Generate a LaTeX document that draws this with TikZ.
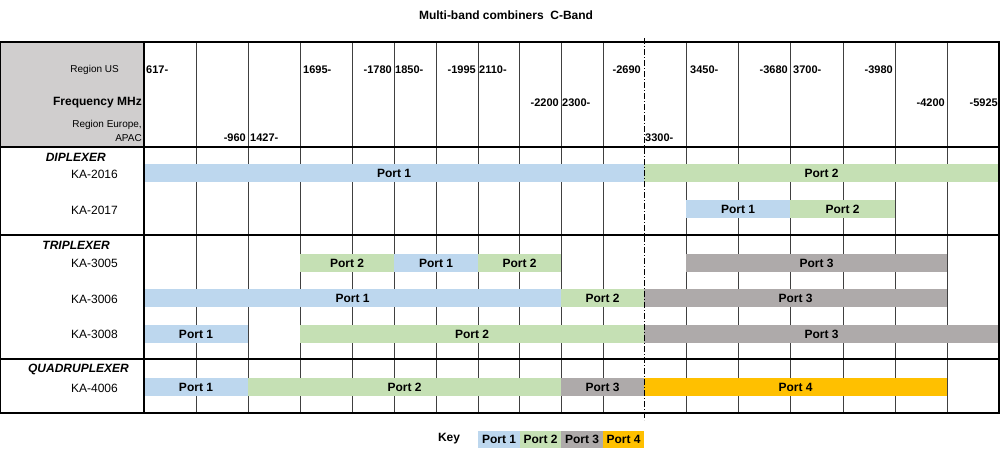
\documentclass[tikz,border=0pt]{standalone}
\usepackage{fontspec}
\setmainfont{Liberation Sans}
\definecolor{pa}{HTML}{BDD7EE}
\definecolor{pb}{HTML}{C5E0B4}
\definecolor{pc}{HTML}{AEAAAA}
\definecolor{pd}{HTML}{FFC000}
\definecolor{hd}{HTML}{D0CECE}
\begin{document}
\begin{tikzpicture}[x=1pt,y=-1pt,
  grid/.style={draw=black!75,line width=0.6pt},
  frame/.style={draw=black,line width=1.2pt},
  bar/.style={inner sep=0pt,outer sep=0pt,minimum height=18pt,font=\bfseries\fontsize{12}{12}\selectfont},
  fq/.style={inner sep=1pt,font=\bfseries\fontsize{11}{11}\selectfont},
  dev/.style={anchor=east,inner sep=0pt,font=\fontsize{12}{12}\selectfont},
  grp/.style={anchor=east,inner sep=0pt,font=\bfseries\itshape\fontsize{12}{12}\selectfont},
  key/.style={inner sep=0pt,minimum height=17pt,minimum width=41.5pt,font=\bfseries\fontsize{12}{12}\selectfont}]
\useasboundingbox (0,0) rectangle (1000,456);
\node[font=\bfseries\fontsize{12}{12}\selectfont] (title) at (506,15) {Multi-band combiners\ \ C-Band};
\fill[hd] (0,42) rectangle (144,147);
% vertical grid
\foreach \x in {196,248,300,352,394,436,478,519,561,603,686,738,790,843,895,947}
  \draw[grid] (\x,42) -- (\x,413);
% bars
\newcommand{\pbar}[5]{\node[bar,fill=#4,minimum width={#2-#1},anchor=west] (#5) at (#1,#3) {Port #5};}
% KA-2016
\node[bar,fill=pa,minimum width=500pt,anchor=west] (a1) at (144,173) {Port 1};
\node[bar,fill=pb,minimum width=355pt,anchor=west] (a2) at (644,173) {Port 2};
% KA-2017
\node[bar,fill=pa,minimum width=104pt,anchor=west] (b1) at (686,209) {Port 1};
\node[bar,fill=pb,minimum width=105pt,anchor=west] (b2) at (790,209) {Port 2};
% KA-3005
\node[bar,fill=pb,minimum width=94pt,anchor=west] (c2a) at (300,263) {Port 2};
\node[bar,fill=pa,minimum width=84pt,anchor=west] (c1) at (394,263) {Port 1};
\node[bar,fill=pb,minimum width=83pt,anchor=west] (c2b) at (478,263) {Port 2};
\node[bar,fill=pc,minimum width=261pt,anchor=west] (c3) at (686,263) {Port 3};
% KA-3006
\node[bar,fill=pa,minimum width=417pt,anchor=west] (d1) at (144,298) {Port 1};
\node[bar,fill=pb,minimum width=83pt,anchor=west] (d2) at (561,298) {Port 2};
\node[bar,fill=pc,minimum width=303pt,anchor=west] (d3) at (644,298) {Port 3};
% KA-3008
\node[bar,fill=pa,minimum width=104pt,anchor=west] (e1) at (144,334) {Port 1};
\node[bar,fill=pb,minimum width=344pt,anchor=west] (e2) at (300,334) {Port 2};
\node[bar,fill=pc,minimum width=355pt,anchor=west] (e3) at (644,334) {Port 3};
% KA-4006
\node[bar,fill=pa,minimum width=104pt,anchor=west] (f1) at (144,387) {Port 1};
\node[bar,fill=pb,minimum width=313pt,anchor=west] (f2) at (248,387) {Port 2};
\node[bar,fill=pc,minimum width=83pt,anchor=west] (f3) at (561,387) {Port 3};
\node[bar,fill=pd,minimum width=303pt,anchor=west] (f4) at (644,387) {Port 4};
% dash-dot
\draw[black,line width=0.8pt,dash pattern=on 6pt off 2pt on 1pt off 2pt] (644,38) -- (644,420);
% frame and separators
\draw[frame] (0,42) rectangle (999,413);
\draw[frame] (144,42) -- (144,413);
\draw[frame] (0,147) -- (999,147);
\draw[frame] (0,235) -- (999,235);
\draw[frame] (0,359) -- (999,359);
% header labels
\node[anchor=east,inner sep=1pt,font=\fontsize{10}{10}\selectfont] (rus) at (120,70) {Region US};
\node[anchor=east,inner sep=1pt,font=\bfseries\fontsize{12}{12}\selectfont] (fmhz) at (143,103) {Frequency MHz};
\node[anchor=east,inner sep=1pt,font=\fontsize{10}{10}\selectfont] (reu) at (143,125) {Region Europe,};
\node[anchor=east,inner sep=1pt,font=\fontsize{10}{10}\selectfont] (apac) at (143,138) {APAC};
% frequency labels
\node[fq,anchor=west] (f617) at (145,70) {617-};
\node[fq,anchor=east] (f960) at (247,138) {-960};
\node[fq,anchor=west] (f1427) at (249,138) {1427-};
\node[fq,anchor=west] (f1695) at (302,70) {1695-};
\node[fq,anchor=east] (f1780) at (393,70) {-1780};
\node[fq,anchor=west] (f1850) at (394,70) {1850-};
\node[fq,anchor=east] (f1995) at (477,70) {-1995};
\node[fq,anchor=west] (f2110) at (478,70) {2110-};
\node[fq,anchor=east] (f2200) at (560,103) {-2200};
\node[fq,anchor=west] (f2300) at (561,103) {2300-};
\node[fq,anchor=east] (f2690) at (642,70) {-2690};
\node[fq,anchor=west] (f3300) at (644,138) {3300-};
\node[fq,anchor=west] (f3450) at (689,70) {3450-};
\node[fq,anchor=east] (f3680) at (789,70) {-3680};
\node[fq,anchor=west] (f3700) at (792,70) {3700-};
\node[fq,anchor=east] (f3980) at (894,70) {-3980};
\node[fq,anchor=east] (f4200) at (946,103) {-4200};
\node[fq,anchor=east] (f5925) at (999,103) {-5925};
% devices
\node[grp] (g1) at (106,157) {DIPLEXER};
\node[dev] (k1) at (118,174) {KA-2016};
\node[dev] (k2) at (118,210) {KA-2017};
\node[grp] (g2) at (110,245) {TRIPLEXER};
\node[dev] (k3) at (118,263) {KA-3005};
\node[dev] (k4) at (118,299) {KA-3006};
\node[dev] (k5) at (118,334) {KA-3008};
\node[grp] (g3) at (129,369) {QUADRUPLEXER};
\node[dev] (k6) at (118,388) {KA-4006};
% key
\node[font=\bfseries\fontsize{12}{12}\selectfont] (keyl) at (449,439) {Key};
\node[key,fill=pa] (k1b) at (499,439) {Port 1};
\node[key,fill=pb] (k2b) at (540.5,439) {Port 2};
\node[key,fill=pc] (k3b) at (582,439) {Port 3};
\node[key,fill=pd] (k4b) at (623.5,439) {Port 4};
\end{tikzpicture}
\end{document}
